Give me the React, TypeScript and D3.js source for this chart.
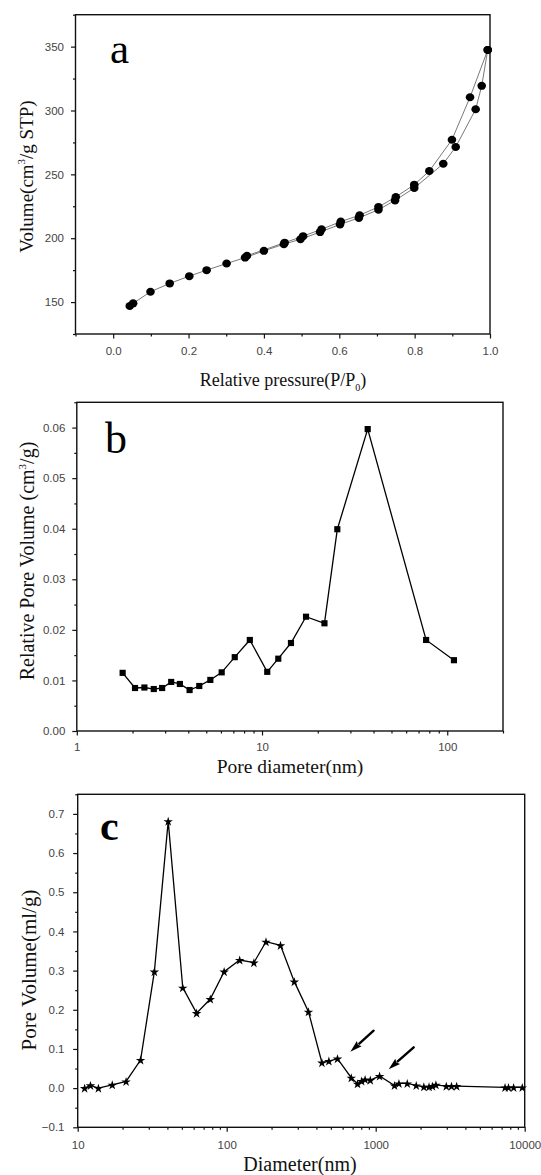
import React, { useEffect, useRef } from 'react';
import * as d3 from 'd3';

// panel a: N2 isotherm, adsorption and desorption branches
const adsPressure = [0.044, 0.053, 0.099, 0.15, 0.202, 0.248, 0.301, 0.35, 0.4, 0.453, 0.497, 0.549, 0.602, 0.652, 0.704, 0.748, 0.799, 0.876, 0.909, 0.962, 0.978, 0.994];
const adsVolume = [146.9, 149, 158.1, 164.6, 170.3, 175, 180.2, 184.8, 190.1, 195.3, 199.2, 204.8, 210.8, 215.9, 222.3, 229.6, 239.3, 258.3, 271.4, 301, 319.3, 347.4];
const desPressure = [0.994, 0.947, 0.899, 0.839, 0.799, 0.75, 0.704, 0.654, 0.604, 0.553, 0.504, 0.455, 0.355];
const desVolume = [347.4, 310.4, 277.1, 252.6, 241.9, 232.3, 224.5, 218, 213, 207, 201.6, 196.5, 186.3];
const aXTicks = [0, 0.2, 0.4, 0.6, 0.8, 1.0];
const aXMinor = [-0.1, 0.1, 0.3, 0.5, 0.7, 0.9];
const aYTicks = [150, 200, 250, 300, 350];
const aYMinor = [125, 175, 225, 275, 325, 375];

// panel b: BJH pore size distribution
const bDiameter = [1.768, 2.062, 2.317, 2.604, 2.889, 3.233, 3.602, 4.064, 4.584, 5.259, 6.057, 7.125, 8.594, 10.67, 12.24, 14.33, 17.28, 21.73, 25.5, 37.2, 76.9, 108.7];
const bVolume = [0.0115, 0.0085, 0.0086, 0.0083, 0.0085, 0.0097, 0.0093, 0.0081, 0.0089, 0.0101, 0.0116, 0.0146, 0.018, 0.0117, 0.0143, 0.0174, 0.0226, 0.0213, 0.0399, 0.0597, 0.018, 0.014];
const bXTicks = [1, 10, 100];
const bXMinor = [2, 3, 4, 5, 6, 7, 8, 9, 20, 30, 40, 50, 60, 70, 80, 90, 200];
const bYTicks = [0, 0.01, 0.02, 0.03, 0.04, 0.05, 0.06];
const bYMinor = [0.005, 0.015, 0.025, 0.035, 0.045, 0.055, 0.065];

// panel c: mercury intrusion pore volume
const cDiameter = [11.13, 12.18, 13.77, 17.06, 21.12, 26.42, 32.7, 40.5, 50.7, 62.8, 77.6, 96.1, 122.2, 152.2, 183.5, 229.6, 284.3, 353.9, 435.6, 484.9, 554, 685.5, 755, 805, 849, 920, 1062, 1337, 1432, 1629, 1871, 2104, 2280, 2405, 2536, 2977, 3226, 3494, 7380, 7782, 8430, 9630];
const cVolume = [0, 0.007, 0, 0.0085, 0.017, 0.0718, 0.2974, 0.6814, 0.2564, 0.1915, 0.2274, 0.2974, 0.327, 0.3203, 0.3737, 0.3644, 0.2718, 0.1949, 0.065, 0.0692, 0.0752, 0.0265, 0.0111, 0.018, 0.0222, 0.0205, 0.0308, 0.0068, 0.012, 0.012, 0.0068, 0.0034, 0.0034, 0.0051, 0.0085, 0.0051, 0.0051, 0.0051, 0.0017, 0.0017, 0.0017, 0.0017];
const cXTicks = [10, 100, 1000, 10000];
const cXMinor = [20, 30, 40, 50, 60, 70, 80, 90, 200, 300, 400, 500, 600, 700, 800, 900, 2000, 3000, 4000, 5000, 6000, 7000, 8000, 9000];
const cYTicks = [-0.1, 0, 0.1, 0.2, 0.3, 0.4, 0.5, 0.6, 0.7];
const cYMinor = [-0.05, 0.05, 0.15, 0.25, 0.35, 0.45, 0.55, 0.65, 0.75];
// arrows: [tail diameter, tail volume, tip diameter, tip volume]
const cArrows = [
  [968, 0.1465, 676, 0.093],
  [1799, 0.104, 1222, 0.048],
];

const W = 541;
const H = 1175;
const serif = '"Liberation Serif", "Times New Roman", serif';
const sans = '"Liberation Sans", Arial, sans-serif';

const App = () => {
  const svgRef = useRef<SVGSVGElement>(null);

  useEffect(() => {
    const svg = d3.select(svgRef.current);
    svg.selectAll('*').remove();

    // draws frame, ticks and tick labels for one panel
    const frame = (x: any, y: any, o: any) => {
      const [x0, x1] = x.range();
      const [y0, y1] = y.range();
      const g = svg.append('g');

      const yAxis = g
        .append('g')
        .attr('transform', `translate(${x0},0)`)
        .call(d3.axisLeft(y).tickValues(o.yTicks).tickSize(4.5).tickPadding(o.yPad).tickFormat(o.yFmt));
      const yMinor = g
        .append('g')
        .attr('transform', `translate(${x0},0)`)
        .call(d3.axisLeft(y).tickValues(o.yMinor).tickSize(2.5).tickFormat(() => ''));
      const xAxis = g
        .append('g')
        .attr('transform', `translate(0,${y0})`)
        .call(d3.axisBottom(x).tickValues(o.xTicks).tickSize(4.5).tickPadding(o.xPad).tickFormat(o.xFmt));
      const xMinor = g
        .append('g')
        .attr('transform', `translate(0,${y0})`)
        .call(d3.axisBottom(x).tickValues(o.xMinor).tickSize(2.5).tickFormat(() => ''));

      [yAxis, yMinor, xAxis, xMinor].forEach((a) => {
        a.select('.domain').remove();
        a.selectAll('line').attr('stroke', '#111').attr('stroke-width', 1.2);
        a.selectAll('text')
          .attr('font-family', sans)
          .attr('font-size', 11.5)
          .attr('fill', '#444');
      });

      g.append('rect')
        .attr('x', x0)
        .attr('y', y1)
        .attr('width', x1 - x0)
        .attr('height', y0 - y1)
        .attr('fill', 'none')
        .attr('stroke', '#111')
        .attr('stroke-width', 1.4);
    };

    // panel label letter
    const letter = (t: string, x: number, y: number, size: number, weight: string) => {
      svg.append('text')
        .attr('x', x)
        .attr('y', y)
        .attr('font-family', serif)
        .attr('font-size', size)
        .attr('font-weight', weight)
        .attr('fill', '#000')
        .text(t);
    };

    // ---------- panel a ----------
    const xa = d3.scaleLinear().domain([-0.1, 1.0]).range([75.5, 490]);
    const ya = d3.scaleLinear().domain([125, 375]).range([334, 14.7]);
    frame(xa, ya, {
      xTicks: aXTicks, xMinor: aXMinor, yTicks: aYTicks, yMinor: aYMinor,
      xFmt: d3.format('.1f'), yFmt: d3.format('d'), xPad: 8.3, yPad: 7,
    });

    const ads = adsPressure.map((p, i) => [xa(p), ya(adsVolume[i])] as [number, number]);
    const des = desPressure.map((p, i) => [xa(p), ya(desVolume[i])] as [number, number]);
    [ads, des].forEach((pts) => {
      svg.append('path')
        .attr('d', d3.line()(pts))
        .attr('fill', 'none')
        .attr('stroke', '#555')
        .attr('stroke-width', 0.8);
    });
    [...ads, ...des].forEach(([px, py]) => {
      svg.append('ellipse')
        .attr('cx', px)
        .attr('cy', py)
        .attr('rx', 4.3)
        .attr('ry', 4)
        .attr('fill', '#000');
    });

    letter('a', 110, 62.7, 43, 'normal');

    const ayl = svg.append('text')
      .attr('transform', 'translate(33,176.5) rotate(-90)')
      .attr('text-anchor', 'middle')
      .attr('font-family', serif)
      .attr('font-size', 19)
      .attr('fill', '#111');
    ayl.append('tspan').text('Volume(cm');
    ayl.append('tspan').attr('font-size', 11).attr('dy', -8).text('3');
    ayl.append('tspan').attr('dy', 8).text('/g STP)');

    const axl = svg.append('text')
      .attr('x', 283)
      .attr('y', 385.5)
      .attr('text-anchor', 'middle')
      .attr('font-family', serif)
      .attr('font-size', 18)
      .attr('fill', '#111');
    axl.append('tspan').text('Relative pressure(P/P');
    axl.append('tspan').attr('font-size', 10).attr('dy', 5).text('0');
    axl.append('tspan').attr('dy', -5).text(')');

    // ---------- panel b ----------
    const xb = d3.scaleLog().domain([1, 200]).range([76.8, 503]);
    const yb = d3.scaleLinear().domain([0, 0.065]).range([731, 402.3]);
    frame(xb, yb, {
      xTicks: bXTicks, xMinor: bXMinor, yTicks: bYTicks, yMinor: bYMinor,
      xFmt: d3.format('d'), yFmt: d3.format('.2f'), xPad: 7.3, yPad: 7,
    });

    const ptsB = bDiameter.map((d, i) => [xb(d), yb(bVolume[i])] as [number, number]);
    svg.append('path')
      .attr('d', d3.line()(ptsB))
      .attr('fill', 'none')
      .attr('stroke', '#000')
      .attr('stroke-width', 1.3);
    svg.append('g')
      .selectAll('path')
      .data(ptsB)
      .enter()
      .append('path')
      .attr('transform', (d) => `translate(${d[0]},${d[1]})`)
      .attr('d', d3.symbol(d3.symbolSquare, 38)())
      .attr('fill', '#000');

    letter('b', 105, 453.3, 44, 'normal');

    const byl = svg.append('text')
      .attr('transform', 'translate(34,561) rotate(-90)')
      .attr('text-anchor', 'middle')
      .attr('font-family', serif)
      .attr('font-size', 20)
      .attr('fill', '#111');
    byl.append('tspan').text('Relative Pore Volume (cm');
    byl.append('tspan').attr('font-size', 11).attr('dy', -8).text('3');
    byl.append('tspan').attr('dy', 8).text('/g)');

    svg.append('text')
      .attr('x', 290)
      .attr('y', 773)
      .attr('text-anchor', 'middle')
      .attr('font-family', serif)
      .attr('font-size', 19.5)
      .attr('fill', '#111')
      .text('Pore diameter(nm)');

    // ---------- panel c ----------
    const xc = d3.scaleLog().domain([10, 10000]).range([77.7, 524.7]);
    const yc = d3.scaleLinear().domain([-0.1, 0.75]).range([1127.3, 794.3]);
    frame(xc, yc, {
      xTicks: cXTicks, xMinor: cXMinor, yTicks: cYTicks, yMinor: cYMinor,
      xFmt: d3.format('d'), yFmt: d3.format('.1f'), xPad: 9.3, yPad: 8.7,
    });

    const ptsC = cDiameter.map((d, i) => [xc(d), yc(cVolume[i])] as [number, number]);
    svg.append('path')
      .attr('d', d3.line()(ptsC))
      .attr('fill', 'none')
      .attr('stroke', '#000')
      .attr('stroke-width', 1.3);
    svg.append('g')
      .selectAll('path')
      .data(ptsC)
      .enter()
      .append('path')
      .attr('transform', (d) => `translate(${d[0]},${d[1] + 0.5})`)
      .attr('d', d3.symbol(d3.symbolStar, 28)())
      .attr('fill', '#000');

    // arrows pointing at the small shoulders
    cArrows.forEach(([dx0, v0, dx1, v1]) => {
      const tx = xc(dx0), ty = yc(v0);
      const hx = xc(dx1), hy = yc(v1);
      const len = Math.hypot(tx - hx, ty - hy);
      const ux = (tx - hx) / len, uy = (ty - hy) / len;
      const headLen = 12, headW = 3.6;
      const bx = hx + ux * headLen, by = hy + uy * headLen;
      svg.append('line')
        .attr('x1', tx).attr('y1', ty)
        .attr('x2', bx).attr('y2', by)
        .attr('stroke', '#000')
        .attr('stroke-width', 2.4)
        .attr('stroke-linecap', 'round');
      svg.append('polygon')
        .attr('points', [
          [hx, hy],
          [bx - uy * headW, by + ux * headW],
          [hx + ux * headLen * 0.85, hy + uy * headLen * 0.85],
          [bx + uy * headW, by - ux * headW],
        ].map((p) => p.join(',')).join(' '))
        .attr('fill', '#000');
    });

    letter('c', 100, 840, 42, 'bold');

    svg.append('text')
      .attr('transform', 'translate(36,970) rotate(-90)')
      .attr('text-anchor', 'middle')
      .attr('font-family', serif)
      .attr('font-size', 21)
      .attr('fill', '#111')
      .text('Pore Volume(ml/g)');

    svg.append('text')
      .attr('x', 300)
      .attr('y', 1171)
      .attr('text-anchor', 'middle')
      .attr('font-family', serif)
      .attr('font-size', 20)
      .attr('fill', '#111')
      .text('Diameter(nm)');
  }, []);

  return (
    <div style={{ position: 'absolute', left: 0, top: 0 }}>
      <svg ref={svgRef} width={W} height={H} style={{ display: 'block', background: '#fff' }}></svg>
    </div>
  );
};

export default App;
